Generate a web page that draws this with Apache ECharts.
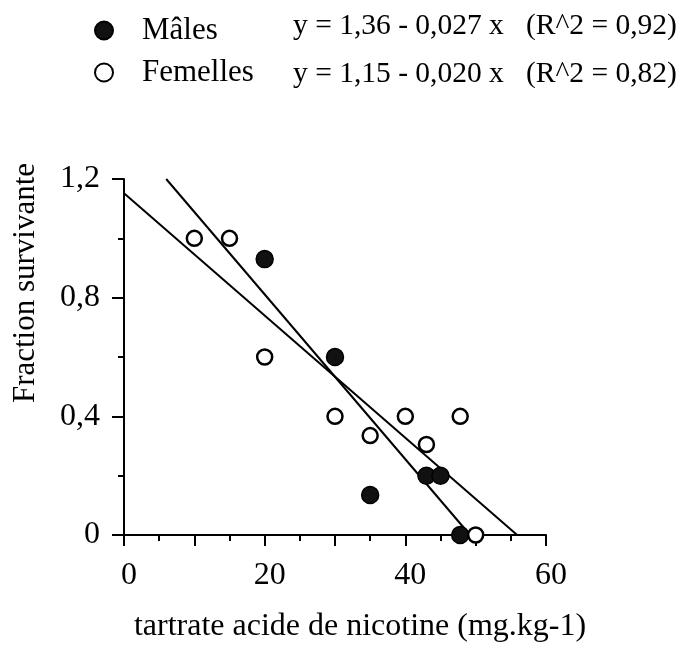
<!DOCTYPE html>
<html><head><meta charset="utf-8">
<script src="https://cdn.jsdelivr.net/npm/echarts@6/dist/echarts.min.js"></script>
<style>html,body{margin:0;padding:0;background:#fff}#c{width:679px;height:648px}</style>
</head><body><div id="c"></div>
<script>
const maleX = [20, 30, 35, 43, 45, 47.8];
const maleY = [0.93, 0.60, 0.135, 0.20, 0.20, 0];
const femaleX = [10, 15, 20, 30, 35, 40, 43, 47.8, 50];
const femaleY = [1.0, 1.0, 0.60, 0.40, 0.335, 0.40, 0.305, 0.40, 0];
const maleFitX = [6, 49.2];
const maleFitY = [1.2, 0];
const femaleFitX = [0, 55.9];
const femaleFitY = [1.152, 0];
const xTickLabels = ['0', '20', '40', '60'];
const yTickLabels = ['0', '0,4', '0,8', '1,2'];
const seriesNames = ['Mâles', 'Femelles'];
const equations = ['y = 1,36 - 0,027 x   (R^2 = 0,92)', 'y = 1,15 - 0,020 x   (R^2 = 0,82)'];
const xTitle = 'tartrate acide de nicotine (mg.kg-1)';
const yTitle = 'Fraction survivante';

const FONT = "'Liberation Serif', 'Times New Roman', serif";
const zip = (a, b) => a.map((v, i) => [v, b[i]]);
const chart = echarts.init(document.getElementById('c'), null, {renderer: 'canvas'});
const axisCommon = {
  axisLine: {show: true, lineStyle: {color: '#000', width: 2}},
  splitLine: {show: false},
  minorSplitLine: {show: false}
};
chart.setOption({
  animation: false,
  backgroundColor: '#fff',
  grid: {left: 124, top: 179, width: 422, height: 357, containLabel: false},
  xAxis: Object.assign({}, axisCommon, {
    type: 'value', min: 0, max: 60, interval: 10,
    axisTick: {show: true, inside: false, length: 11, lineStyle: {color: '#000', width: 2}},
    minorTick: {show: true, splitNumber: 2, length: 6, lineStyle: {color: '#000', width: 2}},
    axisLabel: {
      margin: 25, color: '#000', fontFamily: FONT, fontSize: 32, padding: [0, 0, 0, 10],
      formatter: v => (Math.round(v) % 20 === 0 ? xTickLabels[Math.round(v / 20)] : '')
    },
    name: xTitle, nameLocation: 'middle', nameGap: 76,
    nameTextStyle: {color: '#000', fontFamily: FONT, fontSize: 32, padding: [0, 0, 0, 50]}
  }),
  yAxis: Object.assign({}, axisCommon, {
    type: 'value', min: 0, max: 1.2, interval: 0.4,
    axisTick: {show: true, inside: false, length: 12, lineStyle: {color: '#000', width: 2}},
    minorTick: {show: true, splitNumber: 2, length: 6, lineStyle: {color: '#000', width: 2}},
    axisLabel: {
      margin: 24, color: '#000', fontFamily: FONT, fontSize: 32,
      formatter: v => yTickLabels[Math.round(v / 0.4)]
    }
  }),
  legend: {
    orient: 'vertical', left: 89, top: 10, itemWidth: 18, itemHeight: 18, itemGap: 11,
    data: seriesNames,
    textStyle: {color: '#000', fontFamily: FONT, fontSize: 31, padding: [4, 0, 0, 24]}
  },
  graphic: [
    {type: 'text', left: 293, top: 11, style: {text: equations[0], fill: '#000', font: "29.5px 'Liberation Serif', serif"}},
    {type: 'text', left: 293, top: 59, style: {text: equations[1], fill: '#000', font: "29.5px 'Liberation Serif', serif"}},
    {type: 'text', x: 26, y: 283, rotation: Math.PI / 2,
     style: {text: yTitle, fill: '#000', font: "31px 'Liberation Serif', serif", align: 'center', verticalAlign: 'middle'}}
  ],
  series: [
    {type: 'line', data: zip(maleFitX, maleFitY), symbol: 'none', z: 1,
     lineStyle: {color: '#000', width: 2}, silent: true, legendHoverLink: false},
    {type: 'line', data: zip(femaleFitX, femaleFitY), symbol: 'none', z: 1,
     lineStyle: {color: '#000', width: 2}, silent: true, legendHoverLink: false},
    {name: seriesNames[0], type: 'scatter', data: zip(maleX, maleY), symbol: 'circle', symbolSize: 17, z: 3,
     itemStyle: {color: '#111', borderColor: '#000', borderWidth: 1.5, opacity: 1}},
    {name: seriesNames[1], type: 'scatter', data: zip(femaleX, femaleY), symbol: 'circle', symbolSize: 15, z: 4,
     itemStyle: {color: '#fff', borderColor: '#000', borderWidth: 2.5, opacity: 1}}
  ]
});
</script></body></html>
